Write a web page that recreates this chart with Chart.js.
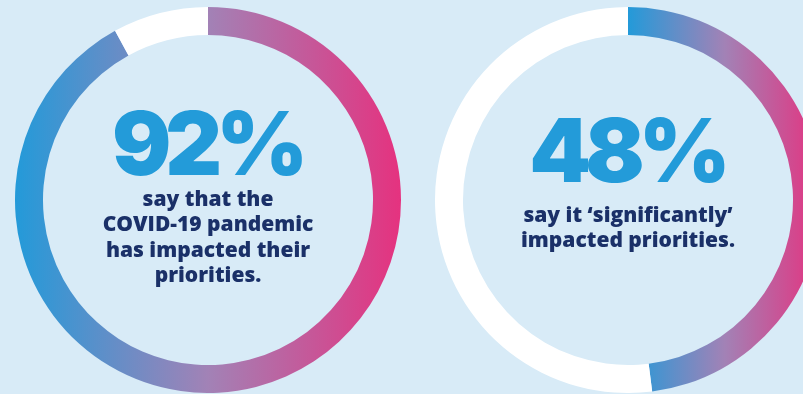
<!DOCTYPE html>
<html>
<head>
<meta charset="utf-8">
<script src="https://cdn.jsdelivr.net/npm/chart.js@4"></script>
<style>
  html, body { margin: 0; padding: 0; }
  body {
    width: 803px; height: 394px; overflow: hidden; position: relative;
    background: #d8ebf7;
  }
  .ring { position: absolute; top: 7px; width: 386px; height: 386px; }
  .ring canvas { position: absolute; left: 0; top: 0; }
  .label {
    position: absolute; left: 0; width: 386px; text-align: center;
  }
  .big {
    font-family: 'Inter', sans-serif; font-weight: 900; color: #239bd9;
    font-size: 88px; line-height: 88px; letter-spacing: -6px; text-indent: -2px;
  }
  .small {
    font-family: 'Open Sans', sans-serif; font-weight: 800; color: #1a3068;
    font-size: 21px; line-height: 25.3px;
  }
</style>
</head>
<body>
<div class="ring" style="left:15px">
  <canvas id="ring-left" width="386" height="386"></canvas>
  <div class="label big" id="big-left" style="top:92px"></div>
  <div class="label small" id="text-left" style="top:179px"></div>
</div>
<div class="ring" style="left:435px">
  <canvas id="ring-right" width="386" height="386"></canvas>
  <div class="label big" id="big-right" style="top:99px"></div>
  <div class="label small" id="text-right" style="top:195px"></div>
</div>
<script>
const categories = ['Impacted', 'Other'];
const leftValues = [92, 8];
const rightValues = [48, 52];
const leftLines = ['say that the', 'COVID-19 pandemic', 'has impacted their', 'priorities.'];
const rightLines = ['say it \u2018significantly\u2019', 'impacted priorities.'];

const blue = '#239ad9';
const mauve = '#a282b6';
const pink = '#e5327f';

// horizontal gradient across the x-range the coloured arc covers
function arcGradient(ctx, fromCenter) {
  const chart = ctx.chart;
  const area = chart.chartArea;
  if (!area) return blue;
  const cx = (area.left + area.right) / 2;
  const x0 = fromCenter ? cx : area.left;
  const g = chart.ctx.createLinearGradient(x0, 0, area.right, 0);
  g.addColorStop(0, blue);
  g.addColorStop(0.5, mauve);
  g.addColorStop(1, pink);
  return g;
}

function makeRing(canvas, values, fromCenter) {
  return new Chart(canvas, {
    type: 'doughnut',
    data: {
      labels: categories,
      datasets: [{
        data: values,
        backgroundColor: ctx => ctx.dataIndex === 0 ? arcGradient(ctx, fromCenter) : '#ffffff',
        borderWidth: 0,
        hoverOffset: 0
      }]
    },
    options: {
      responsive: false,
      animation: false,
      cutout: '85.5%',
      rotation: 0,
      layout: { padding: 0 },
      plugins: { legend: { display: false }, tooltip: { enabled: false } }
    }
  });
}

makeRing(document.getElementById('ring-left'), leftValues, false);
makeRing(document.getElementById('ring-right'), rightValues, true);

document.getElementById('big-left').textContent = leftValues[0] + '%';
document.getElementById('big-right').textContent = rightValues[0] + '%';
document.getElementById('text-left').innerHTML = leftLines.join('<br>');
document.getElementById('text-right').innerHTML = rightLines.join('<br>');
</script>
</body>
</html>
